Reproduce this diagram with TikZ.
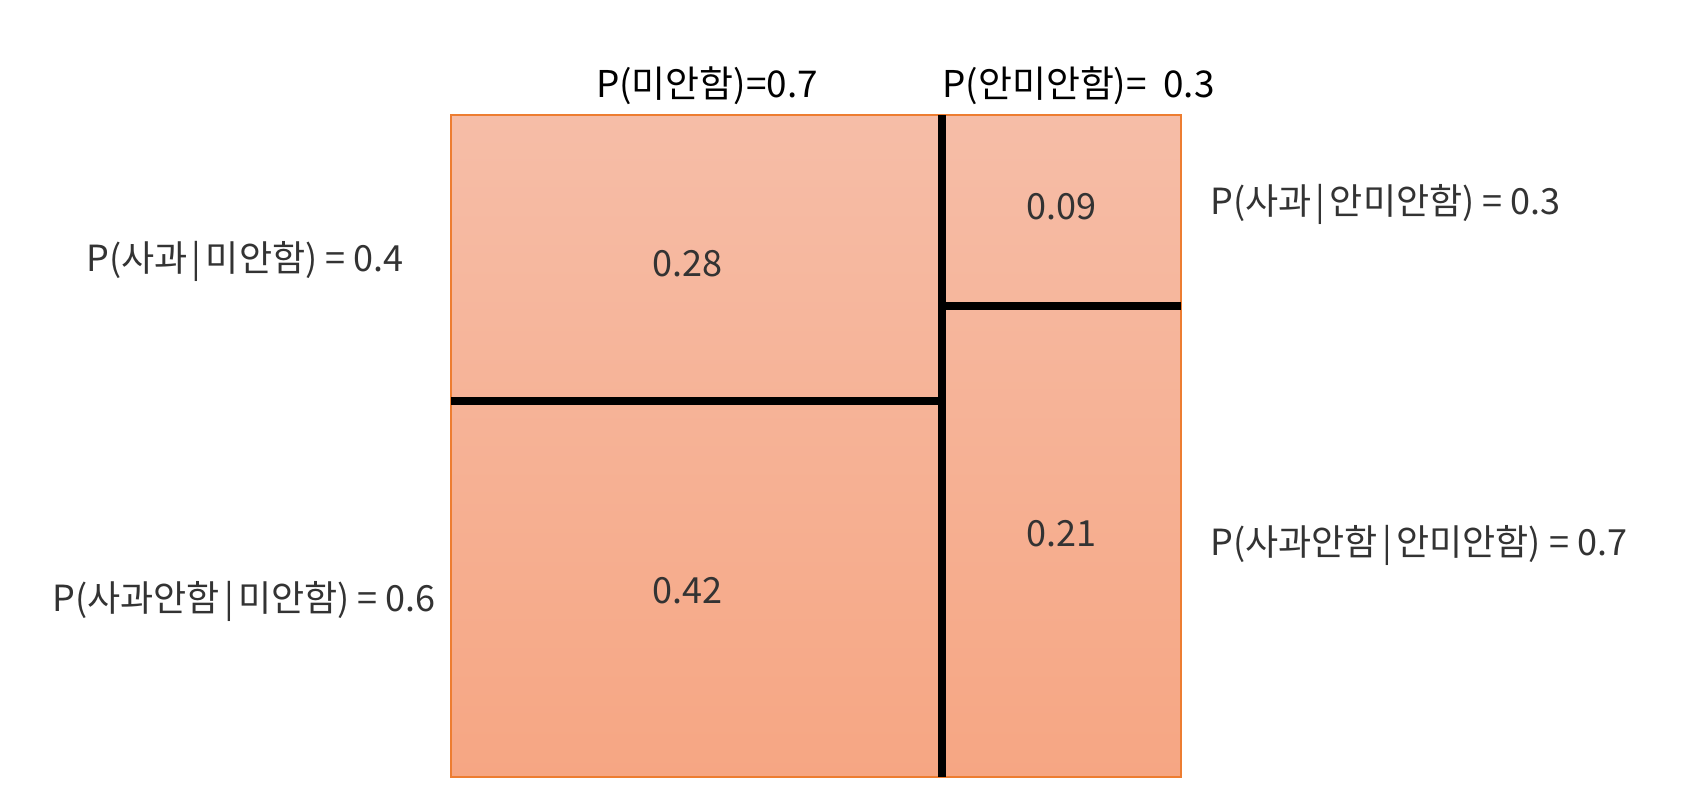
\documentclass[tikz,border=0pt]{standalone}
\usepackage{fontspec}
\setmainfont{Noto Sans CJK KR}
\definecolor{boxtop}{RGB}{246,189,167}
\definecolor{boxbottom}{RGB}{246,166,131}
\definecolor{boxedge}{RGB}{237,125,49}
\definecolor{labelgray}{RGB}{51,51,51}
\newcommand{\given}{\hspace{0.12em}|\hspace{0.12em}}
\tikzset{
    prob/.style={font=\fontsize{20.5}{24}\selectfont, text=labelgray, inner sep=0pt},
    marg/.style={font=\fontsize{21}{25}\selectfont, text=black, inner sep=0pt},
    divider/.style={line width=5pt, black},
}

\begin{document}
\begin{tikzpicture}[x=0.02cm, y=-0.02cm]
    \useasboundingbox (0, 0) rectangle (1684, 806);
    % Unit square
    \shadedraw[top color=boxtop, bottom color=boxbottom, draw=boxedge, line width=0.6pt]
        (451, 115) rectangle (1181, 777);
    \coordinate (top) at (942, 115);
    \coordinate (bot) at (942, 777);
    \coordinate (lsplit) at (451, 401);
    \coordinate (lend) at (942, 401);
    \coordinate (rsplit) at (942, 306);
    \coordinate (rend) at (1181, 306);
    % Dividers
    \draw[divider] (top) -- (bot);
    \draw[divider] (lsplit) -- (lend);
    \draw[divider] (rsplit) -- (rend);
    % Marginal labels
    \node[marg] (pa) at (707, 86) {P(미안함)=0.7};
    \node[marg, anchor=west] (pb) at (942, 86) {P(안미안함)=\hspace{0.45em}0.3};
    % Conditional labels
    \node[prob] (ca1) at (245, 261) {P(사과\given 미안함) = 0.4};
    \node[prob] (ca2) at (244, 601) {P(사과안함\given 미안함) = 0.6};
    \node[prob, anchor=west] (cb1) at (1210, 204) {P(사과\given 안미안함) = 0.3};
    \node[prob, anchor=west] (cb2) at (1210, 545) {P(사과안함\given 안미안함) = 0.7};
    % Joint probabilities
    \node[prob] (j1) at (687, 264) {0.28};
    \node[prob] (j2) at (687, 591) {0.42};
    \node[prob] (j3) at (1061, 207) {0.09};
    \node[prob] (j4) at (1061, 534) {0.21};
\end{tikzpicture}
\end{document}
